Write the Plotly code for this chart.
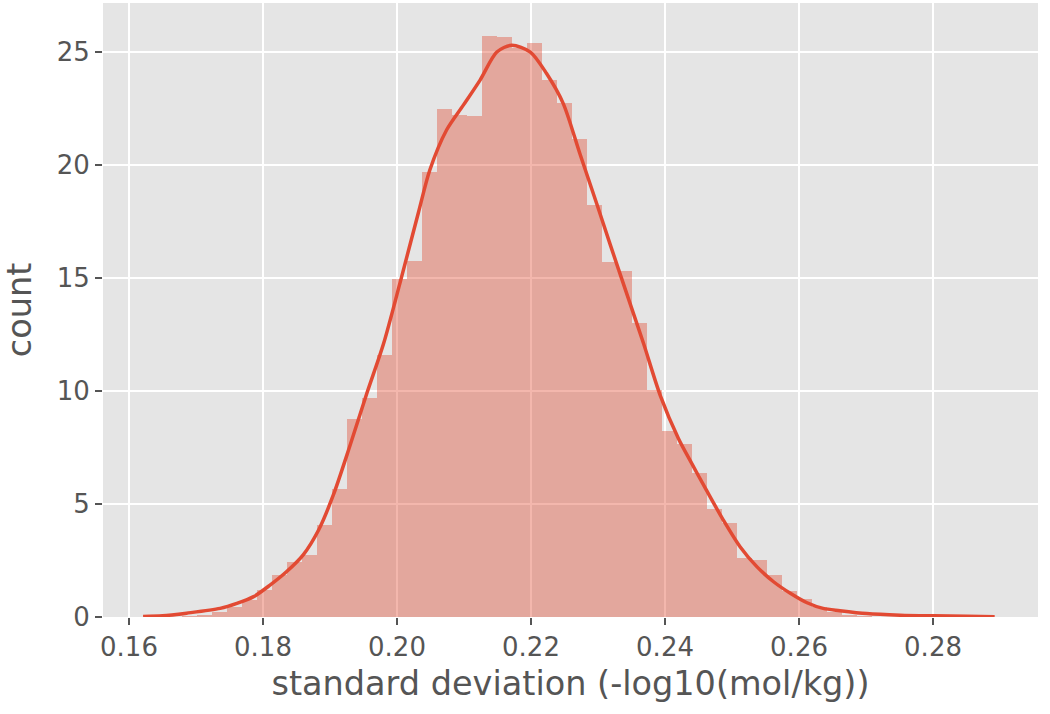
import plotly.graph_objects as go

# histogram bins (left edge of first bin, common width) and bar heights
bin_start = 0.16786
bin_width = 0.002239
counts = [0.03, 0.08, 0.24, 0.46, 0.75, 1.19, 1.86, 2.45, 2.74, 4.07,
          5.65, 8.75, 9.68, 11.6, 14.94, 15.75, 19.7, 22.5, 22.2, 22.17,
          25.7, 25.65, 25.2, 25.38, 23.76, 22.73, 21.15, 18.23, 15.7, 15.3,
          13.0, 10.04, 8.24, 7.65, 6.39, 4.76, 4.17, 2.6, 2.52, 1.86,
          1.17, 0.8, 0.46, 0.22, 0.1, 0.05]

# density curve
kde_x = [0.1621, 0.165, 0.1686, 0.1736, 0.1761, 0.1786, 0.1810, 0.1835, 0.1860, 0.1883,
         0.1905, 0.1930, 0.1955, 0.1980, 0.2005, 0.2032, 0.2049, 0.2074, 0.2099, 0.2124,
         0.2149, 0.2171, 0.2199, 0.2223, 0.2248, 0.2273, 0.2298, 0.2318, 0.2343, 0.2368,
         0.2393, 0.2420, 0.2437, 0.2462, 0.2487, 0.2512, 0.2537, 0.2562, 0.2587, 0.2612,
         0.2636, 0.2661, 0.2701, 0.2751, 0.2801, 0.2851, 0.2892]
kde_y = [0.02, 0.05, 0.17, 0.38, 0.6, 0.9, 1.4, 2.0, 2.75, 3.85,
         5.4, 7.6, 9.9, 12.1, 14.84, 17.9, 19.78, 21.55, 22.65, 23.76,
         25.0, 25.3, 25.0, 24.06, 22.73, 20.5, 18.3, 16.5, 14.3, 12.1,
         9.8, 7.9, 6.95, 5.6, 4.29, 3.11, 2.23, 1.56, 1.05, 0.63,
         0.38, 0.28, 0.15, 0.08, 0.05, 0.03, 0.01]

x_ticks = [0.16, 0.18, 0.20, 0.22, 0.24, 0.26, 0.28]
y_ticks = [0, 5, 10, 15, 20, 25]

centers = [bin_start + bin_width * (i + 0.5) for i in range(len(counts))]

fig = go.Figure()
fig.add_trace(go.Bar(
    x=centers, y=counts, width=bin_width,
    marker=dict(color='rgba(226,74,51,0.4)', line=dict(width=0)),
    hoverinfo='x+y'
))
fig.add_trace(go.Scatter(
    x=kde_x, y=kde_y, mode='lines',
    line=dict(color='#E24A33', width=3.5, shape='spline', smoothing=0.8)
))

fig.update_layout(
    width=1050, height=714,
    margin=dict(l=103, r=12, t=3, b=97),
    showlegend=False,
    bargap=0,
    paper_bgcolor='white',
    plot_bgcolor='#E5E5E5',
    font=dict(family='DejaVu Sans', color='#555555', size=26),
    xaxis=dict(
        range=[0.15612, 0.29567],
        tickvals=x_ticks, tickformat='.2f',
        showgrid=True, gridcolor='white', gridwidth=2,
        zeroline=False, showline=False, automargin=False,
        ticks='outside', ticklen=7, tickwidth=2, tickcolor='#555555',
        tickfont=dict(size=26, color='#555555'),
        title=dict(text='standard deviation (-log10(mol/kg))',
                   font=dict(size=33.5, color='#555555'), standoff=10)
    ),
    yaxis=dict(
        range=[0, 27.17],
        tickvals=y_ticks,
        showgrid=True, gridcolor='white', gridwidth=2,
        zeroline=False, showline=False, automargin=False,
        ticks='outside', ticklen=7, tickwidth=2, tickcolor='#555555',
        tickfont=dict(size=26, color='#555555'),
        title=dict(text='count', font=dict(size=33.5, color='#555555'), standoff=14)
    )
)

# drop the browser's default page margin so the figure sits at the corner
fig.write_html("out.html", config={'displayModeBar': False},
               post_script="document.body.style.margin='0';")
